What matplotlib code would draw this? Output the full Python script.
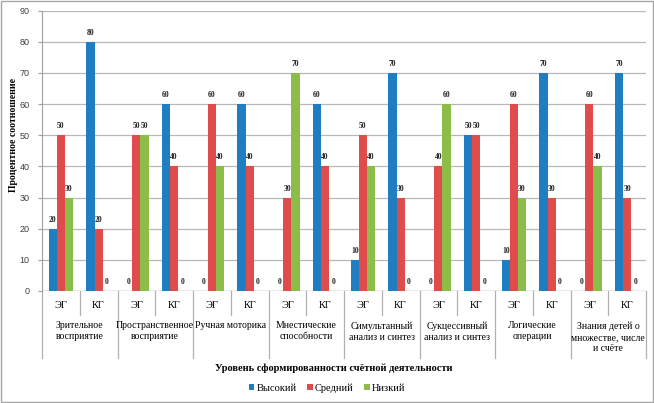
import numpy as np
import matplotlib
matplotlib.use("Agg")
import matplotlib.pyplot as plt
from matplotlib.patches import Rectangle
from matplotlib.transforms import blended_transform_factory

# categories (level 2) and groups (level 1)
categories = ["Зрительное\nвосприятие", "Пространственное\nвосприятие", "Ручная моторика",
              "Мнестические\nспособности", "Симультанный\nанализ и синтез",
              "Сукцессивный\nанализ и синтез", "Логические\nоперации",
              "Знания детей о\nмножестве, числе\nи счёте"]
groups = ["ЭГ", "КГ"]

# values per slot: ЭГ, КГ for each category in order
high = [20, 80, 0, 60, 0, 60, 0, 60, 10, 70, 0, 50, 10, 70, 0, 70]
mid = [50, 20, 50, 40, 60, 40, 30, 40, 50, 30, 40, 50, 60, 30, 60, 30]
low = [30, 0, 50, 0, 40, 0, 70, 0, 40, 0, 60, 0, 30, 0, 40, 0]

series_names = ["Высокий", "Средний", "Низкий"]
colors = ["#1f7ec2", "#e04c4c", "#8cbd48"]

plt.rcParams['font.family'] = ['Liberation Serif', 'DejaVu Serif']

fig = plt.figure(figsize=(6.54, 4.03), dpi=100)
ax = fig.add_axes([42/654, (403-291)/403, (646-42)/654, (291-10.5)/403])

n = len(high)
x = np.arange(n)
w = 0.215
for k, (vals, name, c) in enumerate(zip([high, mid, low], series_names, colors)):
    xs = x + (k - 1) * w
    ax.bar(xs, vals, width=w, color=c, label=name, zorder=3)
    for xi, v in zip(xs, vals):
        ax.annotate(str(v), (xi, v), xytext=(0, 3.5), textcoords='offset points',
                    ha='center', va='bottom', fontsize=5.5, fontweight='bold', color='#222222')

ax.set_xlim(-0.5, n - 0.5)
ax.set_ylim(0, 90)
ax.set_yticks(range(0, 91, 10))
ax.tick_params(axis='y', labelsize=6.5, length=3, color='#a0a0a0', labelcolor='#404040', pad=6)
for lab in ax.get_yticklabels():
    lab.set_family(['Liberation Sans', 'DejaVu Sans'])
ax.set_xticks([])
ax.grid(axis='y', color='#b8b8b8', linewidth=0.9, zorder=0)
for s in ['top', 'right', 'bottom']:
    ax.spines[s].set_visible(False)
ax.spines['left'].set_color('#a0a0a0')
ax.axhline(0, color='#a0a0a0', linewidth=0.9, zorder=2)

ax.set_ylabel("Процентное соотношение", fontsize=7, fontweight='bold')
ax.yaxis.set_label_coords(-0.04, 0.556)

# multi-level x axis
tr = blended_transform_factory(ax.transData, ax.transAxes)
for i in range(n):
    ax.text(i, -0.053, groups[i % 2], transform=tr, ha='center', va='center', fontsize=7.5)
for i in range(n + 1):
    bottom = -0.239 if i % 2 == 0 else -0.0856
    ax.plot([i - 0.5, i - 0.5], [0, bottom], transform=tr, color='#b0b0b0',
            linewidth=0.9, clip_on=False)
for j, cat in enumerate(categories):
    ax.text(2 * j + 0.5, -0.108, cat, transform=tr, ha='center', va='top',
            fontsize=7, linespacing=1.3)

fig.text(0.51, (403-368)/403, "Уровень сформированности счётной деятельности",
         ha='center', va='center', fontsize=7.5, fontweight='bold')

fig.legend(loc='center', bbox_to_anchor=(0.5, (403-388)/403), ncol=3, frameon=False,
           fontsize=7.5, handlelength=0.55, handleheight=0.55, handletextpad=0.2,
           columnspacing=1.0)

fig.patches.append(Rectangle((0.001, 0.002), 0.997, 0.996, transform=fig.transFigure,
                             fill=False, edgecolor='#a6a6a6', linewidth=1))

fig.savefig("out.png", dpi=100)
